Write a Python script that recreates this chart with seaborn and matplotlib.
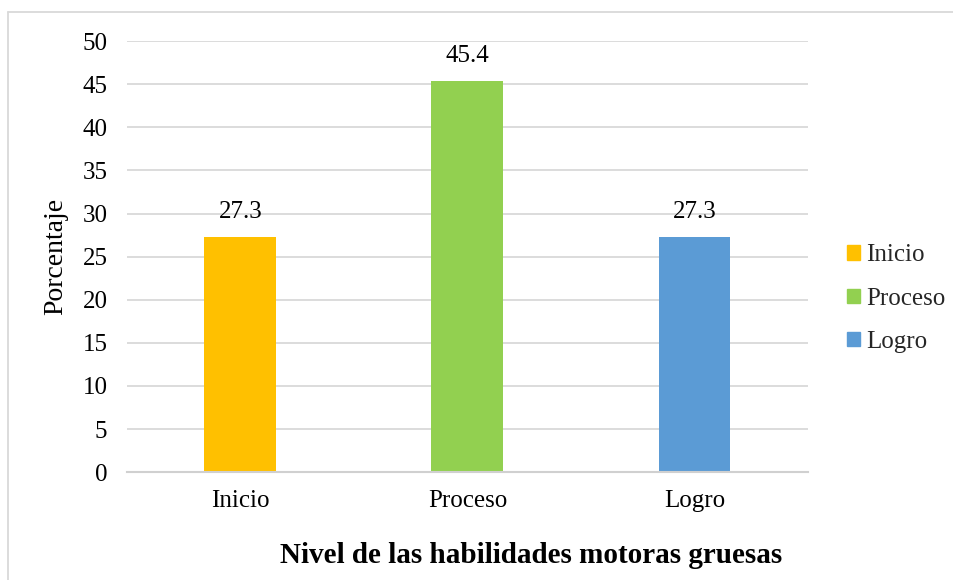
#!/usr/bin/env python3
"""Nivel de las habilidades motoras gruesas - bar chart"""

import pandas as pd
import matplotlib
matplotlib.use('Agg')
import matplotlib.pyplot as plt
from matplotlib.patches import Rectangle
from matplotlib.lines import Line2D
import seaborn as sns

# data
niveles = ['Inicio', 'Proceso', 'Logro']
porcentaje = [27.3, 45.4, 27.3]
colores = ['#FFC000', '#92D050', '#5B9BD5']
y_ticks = [0, 5, 10, 15, 20, 25, 30, 35, 40, 45, 50]

df = pd.DataFrame({'Nivel': niveles, 'Porcentaje': porcentaje})

sns.set_theme(style='white')
plt.rcParams['font.family'] = ['Liberation Serif', 'DejaVu Serif']

fig = plt.figure(figsize=(9.54, 5.80), dpi=100)
ax = fig.add_axes([0.133, 0.186, 0.714, 0.743])

sns.barplot(data=df, x='Nivel', y='Porcentaje', hue='Nivel',
            palette=colores, width=0.317, saturation=1, legend=False,
            linewidth=0, ax=ax)

# value labels on top of bars
for i, v in enumerate(porcentaje):
    ax.annotate(f'{v:.1f}', (i, v), xytext=(0, 10), textcoords='offset points',
                ha='center', va='bottom', fontsize=18, color='#000000')

ax.set_ylim(0, 50)
ax.set_xlim(-0.5, 2.5)
ax.set_yticks(y_ticks)
ax.yaxis.grid(True, color='#D9D9D9', linewidth=1.3)
ax.set_axisbelow(True)
for side in ['left', 'right', 'top']:
    ax.spines[side].set_visible(False)
ax.spines['bottom'].set_color('#D0D0D0')
ax.spines['bottom'].set_linewidth(1.5)
ax.tick_params(axis='both', length=0, labelsize=18, colors='#000000')
ax.tick_params(axis='y', pad=14)
ax.tick_params(axis='x', pad=13)
ax.set_xlabel('')
ax.set_ylabel('Porcentaje', fontsize=20, color='#000000', labelpad=10)

# legend on the right
handles = [Rectangle((0, 0), 1, 1, color=c) for c in colores]
fig.legend(handles, niveles, loc='center left', bbox_to_anchor=(0.888, 0.485),
           frameon=False, fontsize=18, handlelength=0.5, handleheight=0.5,
           handletextpad=0.25, labelspacing=0.85, borderaxespad=0,
           borderpad=0)

# axis title placed below
fig.text(0.557, 0.043, 'Nivel de las habilidades motoras gruesas',
         ha='center', va='center', fontsize=21, fontweight='bold', color='#000000')

# chart area border (only left and top edges are visible)
bx, by = 8 / 954, 1 - 12 / 580
fig.add_artist(Line2D([bx, bx], [0, by], transform=fig.transFigure,
                      color='#D9D9D9', linewidth=1.3))
fig.add_artist(Line2D([bx, 1], [by, by], transform=fig.transFigure,
                      color='#D9D9D9', linewidth=1.3))

fig.savefig('out.png', dpi=100, facecolor='white')
